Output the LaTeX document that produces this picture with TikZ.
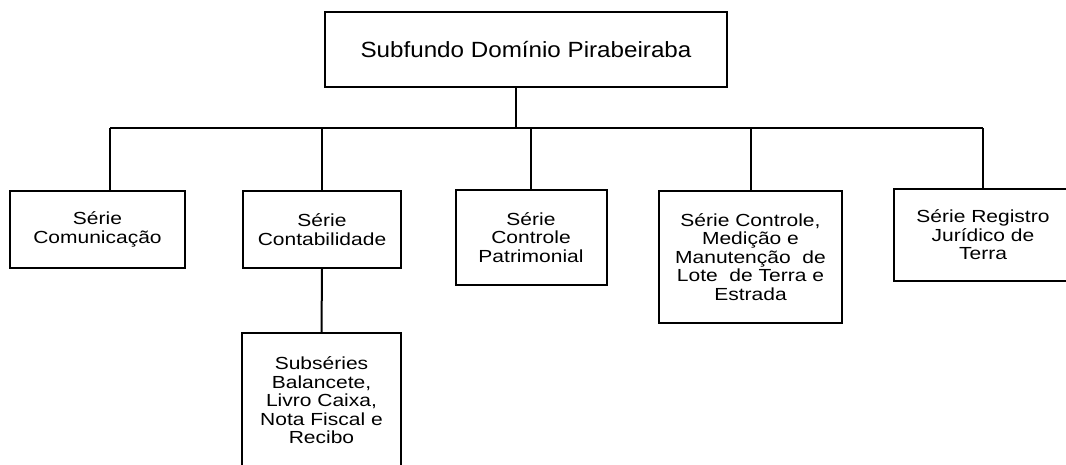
\documentclass[tikz,border=0pt]{standalone}
\usepackage{fontspec}
\setmainfont{Liberation Sans}
\newfontfamily\unitfont{Liberation Sans}[FakeStretch=1.2]
\newfontfamily\headfont{Liberation Sans}[FakeStretch=1.1]

\begin{document}
\begin{tikzpicture}[
  x=1pt,
  y=-1pt,
  unit/.style={draw, line width=2pt, align=center, inner sep=0pt, font=\unitfont\fontsize{17.5}{18.5}\selectfont},
  head/.style={unit, font=\headfont\fontsize{22}{26}\selectfont},
  link/.style={line width=2pt}
  ]
\useasboundingbox (0,0) rectangle (1066,465);

% Subfundo
\node[head, minimum width=402pt, minimum height=75pt] (fundo) at (526,49.5) {Subfundo Domínio Pirabeiraba};

% Series
\node[unit, minimum width=175pt, minimum height=77pt] (comunic) at (97.5,229.5) {Série\\Comunicação};
\node[unit, minimum width=158pt, minimum height=77pt] (contab) at (322,229.5) {Série\\Contabilidade};
\node[unit, minimum width=151pt, minimum height=95pt] (patrim) at (531,237.5) {Série\\Controle\\Patrimonial};
\node[unit, minimum width=183pt, minimum height=132pt] (lote) at (750.5,257) {Série Controle,\\Medição e\\Manutenção \ de\\Lote \ de Terra e\\Estrada};
\node[unit, minimum width=178pt, minimum height=92pt] (registro) at (983,235) {Série Registro\\Jurídico de\\Terra};

% Subseries
\node[unit, minimum width=159pt, minimum height=135pt] (subser) at (321.5,400.5) {Subséries\\Balancete,\\Livro Caixa,\\Nota Fiscal e\\Recibo};

% links
\coordinate (bar) at (516,128);
\coordinate (d1) at (110,128);
\coordinate (d5) at (983,128);

\draw[link] (fundo.south -| bar) -- (bar);
\draw[link] (d1) -- (d5);
\draw[link] (d1) -- (d1 |- comunic.north);
\draw[link] (contab.north) -- (contab.north |- bar);
\draw[link] (patrim.north) -- (patrim.north |- bar);
\draw[link] (lote.north) -- (lote.north |- bar);
\draw[link] (registro.north) -- (registro.north |- bar);
\draw[link] (contab.south) -- (subser.north);

\end{tikzpicture}
\end{document}
